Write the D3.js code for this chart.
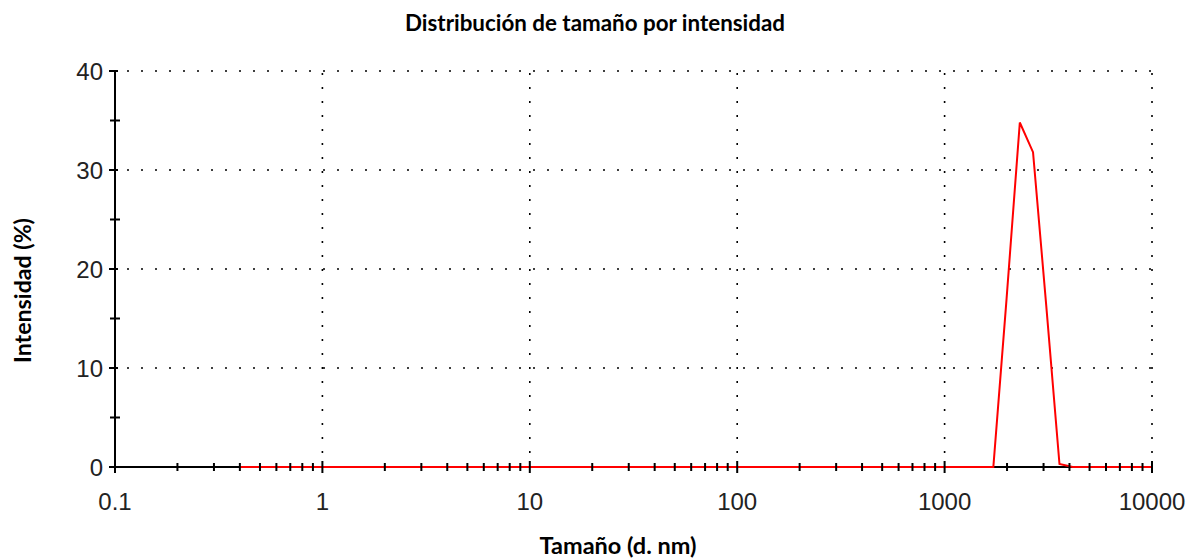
<!DOCTYPE html>
<html>
<head>
<meta charset="utf-8">
<script src="https://cdn.jsdelivr.net/npm/d3@7/dist/d3.min.js"></script>
<style>
  html, body { margin: 0; padding: 0; background: #fff; }
  svg { display: block; }
</style>
</head>
<body>
<svg id="chart" width="1199" height="560"></svg>
<script>
// ---- Data ----
const sizes = [0.4, 0.4632, 0.5365, 0.6213, 0.7195, 0.8332, 0.9649, 1.117, 1.294, 1.499,
  1.736, 2.010, 2.328, 2.696, 3.122, 3.615, 4.187, 4.849, 5.615, 6.503,
  7.531, 8.721, 10.10, 11.70, 13.54, 15.69, 18.17, 21.04, 24.36, 28.21,
  32.67, 37.84, 43.82, 50.75, 58.77, 68.06, 78.82, 91.28, 105.7, 122.4,
  141.8, 164.2, 190.1, 220.2, 255.0, 295.3, 342.0, 396.1, 458.7, 531.2,
  615.1, 712.4, 825.0, 955.4, 1106, 1281, 1484, 1718, 1990, 2305,
  2669, 3091, 3580, 4145, 4801, 5560, 6439, 7456, 8635, 10000];
const intensity = [0, 0, 0, 0, 0, 0, 0, 0, 0, 0,
  0, 0, 0, 0, 0, 0, 0, 0, 0, 0,
  0, 0, 0, 0, 0, 0, 0, 0, 0, 0,
  0, 0, 0, 0, 0, 0, 0, 0, 0, 0,
  0, 0, 0, 0, 0, 0, 0, 0, 0, 0,
  0, 0, 0, 0, 0, 0, 0, 0, 17.0, 34.8,
  31.8, 16.3, 0.3, 0, 0, 0, 0, 0, 0, 0];
const xTickValues = [0.1, 1, 10, 100, 1000, 10000];
const xTickLabels = ["0.1", "1", "10", "100", "1000", "10000"];
const yTickValues = [0, 10, 20, 30, 40];
const yMinorTicks = [5, 15, 25, 35];
const titleText = "Distribución de tamaño por intensidad";
const xLabelText = "Tamaño (d. nm)";
const yLabelText = "Intensidad (%)";

// ---- Layout ----
const svg = d3.select("#chart");
const x0 = 115, x1 = 1152, yTop = 71, yBot = 467;
const x = d3.scaleLog().domain([0.1, 10000]).range([x0, x1]);
const y = d3.scaleLinear().domain([0, 40]).range([yBot, yTop]);

// minor x ticks (2..9 of each decade)
const xMinor = [];
for (let d = 0.1; d < 10000; d *= 10) {
  for (let k = 2; k <= 9; k++) xMinor.push(+(d * k).toPrecision(3));
}

// ---- Grid (dotted) ----
const grid = svg.append("g").attr("stroke", "#000").attr("stroke-width", 1.6)
  .attr("stroke-dasharray", "2 12");
grid.selectAll("line.h").data(yTickValues.filter(v => v > 0)).join("line")
  .attr("class", "h")
  .attr("x1", x0 + 12).attr("x2", x1 + 1)
  .attr("y1", d => y(d)).attr("y2", d => y(d));
grid.selectAll("line.v").data(xTickValues.filter(v => v > 0.1)).join("line")
  .attr("class", "v")
  .attr("x1", d => x(d)).attr("x2", d => x(d))
  .attr("y1", yTop + 2).attr("y2", yBot - 8);

// ---- Axes lines ----
const axes = svg.append("g").attr("stroke", "#000").attr("stroke-width", 2);
axes.append("line").attr("x1", x0).attr("x2", x1).attr("y1", yBot).attr("y2", yBot);
axes.append("line").attr("x1", x0).attr("x2", x0).attr("y1", yTop).attr("y2", yBot);

// ---- Data line ----
const line = d3.line().x((d, i) => x(sizes[i])).y(d => y(d));
svg.append("path").datum(intensity)
  .attr("fill", "none").attr("stroke", "#ff0000").attr("stroke-width", 2)
  .attr("stroke-linejoin", "miter")
  .attr("d", line);

// ---- Ticks ----
const ticks = svg.append("g").attr("stroke", "#000").attr("stroke-width", 2);
ticks.selectAll("line.xmin").data(xMinor).join("line")
  .attr("x1", d => x(d)).attr("x2", d => x(d))
  .attr("y1", yBot - 4).attr("y2", yBot + 4);
ticks.selectAll("line.xmaj").data(xTickValues).join("line")
  .attr("x1", d => x(d)).attr("x2", d => x(d))
  .attr("y1", yBot - 6).attr("y2", yBot + 6);
ticks.selectAll("line.ymaj").data(yTickValues).join("line")
  .attr("x1", x0 - 6).attr("x2", x0 + 3)
  .attr("y1", d => y(d)).attr("y2", d => y(d));
ticks.selectAll("line.ymin").data(yMinorTicks).join("line")
  .attr("x1", x0 - 5).attr("x2", x0 + 5)
  .attr("y1", d => y(d)).attr("y2", d => y(d));

// ---- Tick labels ----
const tickFont = "'Liberation Sans', Arial, sans-serif";
svg.append("g").selectAll("text").data(xTickValues).join("text")
  .attr("x", d => x(d)).attr("y", 510)
  .attr("text-anchor", "middle")
  .attr("font-family", tickFont).attr("font-size", 24).attr("fill", "#222")
  .text((d, i) => xTickLabels[i]);
svg.append("g").selectAll("text").data(yTickValues).join("text")
  .attr("x", x0 - 12).attr("y", d => y(d) + 8.5)
  .attr("text-anchor", "end")
  .attr("font-family", tickFont).attr("font-size", 24).attr("fill", "#222")
  .text(d => d);

// ---- Titles (fit width to reference) ----
const labelFont = "Lato, 'Open Sans', sans-serif";
function fitText(sel, targetWidth) {
  sel.attr("font-size", 20);
  const w = sel.node().getComputedTextLength();
  sel.attr("font-size", 20 * targetWidth / w);
}
const title = svg.append("text")
  .attr("x", 595).attr("y", 30.5).attr("text-anchor", "middle")
  .attr("font-family", labelFont).attr("font-weight", "bold").attr("fill", "#000")
  .text(titleText);
fitText(title, 380);
const xl = svg.append("text")
  .attr("x", 618).attr("y", 554).attr("text-anchor", "middle")
  .attr("font-family", labelFont).attr("font-weight", "bold").attr("fill", "#000")
  .text(xLabelText);
fitText(xl, 157);
const yl = svg.append("text")
  .attr("transform", "translate(31,290.5) rotate(-90)").attr("text-anchor", "middle")
  .attr("font-family", labelFont).attr("font-weight", "bold").attr("fill", "#000")
  .text(yLabelText);
fitText(yl, 145);
</script>
</body>
</html>
